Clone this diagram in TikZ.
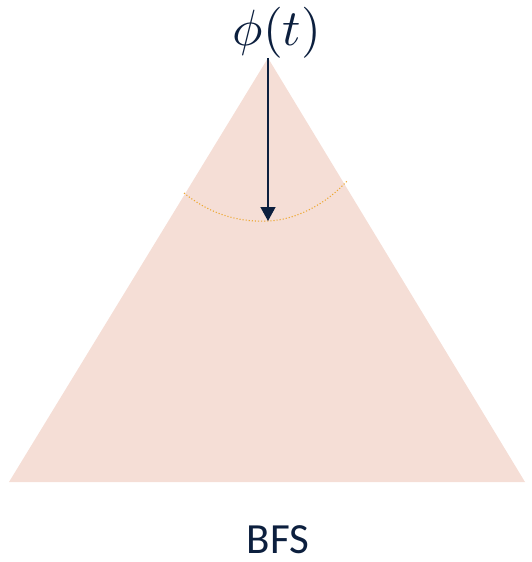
\documentclass[tikz,border=0pt]{standalone}
\usepackage{fontspec}
\newfontfamily\calib{Carlito}
\usetikzlibrary{arrows.meta}
\definecolor{pyr}{HTML}{F5DED6}
\definecolor{navy}{HTML}{0C1F3E}
\definecolor{arcor}{HTML}{EDA832}
\begin{document}
\begin{tikzpicture}[x=1pt,y=-1pt,
  lbl/.style={inner sep=0pt,text=navy},
  probe/.style={draw=navy,line width=1.3pt,-{Triangle[length=14pt,width=15pt]}}]
\useasboundingbox (0,0) rectangle (531,562);
\coordinate (apex) at (268,58);
\coordinate (bl) at (9,482);
\coordinate (br) at (525,482);
\fill[pyr] (bl) -- (apex) -- (br) -- cycle;
\coordinate (al) at (184,193);
\coordinate (ar) at (347,181);
\coordinate (tip) at (268,221);
\draw[arcor,line width=1.1pt,dotted] (al) .. controls (215,218) and (245,222) .. (tip) .. controls (295,220) and (325,205) .. (ar);
\node[lbl,font=\fontsize{10}{12}\selectfont,scale=5.1] (phi) at (277,33) {$\phi(t)$};
\draw[probe] (apex) -- (tip);
\node[lbl,font=\calib\fontsize{43}{48}\selectfont,anchor=base] (bfs) at (278,553) {BFS};
\end{tikzpicture}
\end{document}
